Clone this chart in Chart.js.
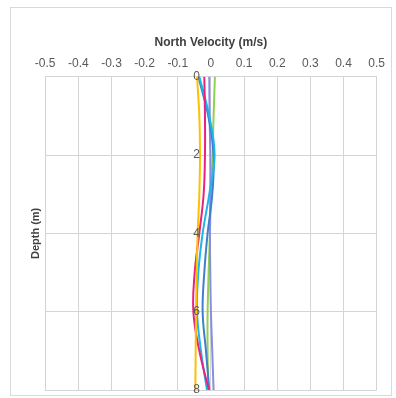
<!DOCTYPE html>
<html>
<head>
<meta charset="utf-8">
<script src="https://cdn.jsdelivr.net/npm/chart.js@4/dist/chart.umd.min.js"></script>
<style>
  html, body { margin: 0; padding: 0; background: #fff; }
  #chartContainer {
    position: absolute; left: 10px; top: 7px;
    width: 380px; height: 387px;
    border: 1px solid #d9d9d9;
  }
</style>
</head>
<body>
<div id="chartContainer"><canvas id="perfil"></canvas></div>
<script>
// Profundidades (m) e velocidades norte (m/s) por perfil
const depths = [0, 1, 2, 3, 4, 5, 6, 7, 8];
const perfilAmarelo = [-0.042, -0.035, -0.033, -0.035, -0.040, -0.043, -0.045, -0.046, -0.047];
const perfilMagenta = [-0.020, -0.018, -0.018, -0.022, -0.035, -0.049, -0.053, -0.035, -0.006];
const perfilCiano   = [-0.035, -0.005, 0.011, -0.005, -0.025, -0.038, -0.042, -0.030, -0.012];
const perfilAzul    = [-0.038, -0.008, 0.008, 0.004, -0.010, -0.020, -0.025, -0.015, -0.005];
const perfilLilas   = [-0.005, -0.004, -0.002, -0.002, -0.003, -0.002, 0.000, 0.004, 0.008];
const perfilVerde   = [0.012, 0.008, 0.005, 0.000, -0.003, -0.007, -0.010, -0.010, -0.008];
const xTicks = [-0.5, -0.4, -0.3, -0.2, -0.1, 0, 0.1, 0.2, 0.3, 0.4, 0.5];
const yTicks = [0, 2, 4, 6, 8];

const series = [
  { nome: 'Perfil 1', valores: perfilAmarelo, cor: '#FFC000' },
  { nome: 'Perfil 2', valores: perfilMagenta, cor: '#E8227E' },
  { nome: 'Perfil 3', valores: perfilCiano, cor: '#1CB5EC' },
  { nome: 'Perfil 4', valores: perfilAzul, cor: '#3F7FCC' },
  { nome: 'Perfil 5', valores: perfilLilas, cor: '#8A8CE0' },
  { nome: 'Perfil 6', valores: perfilVerde, cor: '#92D050' }
];

const fonte = { family: "'Liberation Sans', Arial, sans-serif", size: 12 };
const cinzaGrade = '#d4d4d4';

// Rótulos de profundidade escritos junto ao eixo x = 0
const rotulosProfundidade = {
  id: 'rotulosProfundidade',
  afterDatasetsDraw(chart) {
    const { ctx, scales: { x, y } } = chart;
    const x0 = x.getPixelForValue(0);
    ctx.save();
    ctx.font = `${fonte.size}px ${fonte.family}`;
    ctx.fillStyle = '#595959';
    ctx.textAlign = 'right';
    ctx.textBaseline = 'middle';
    yTicks.forEach(v => ctx.fillText(String(v), x0 - 11, y.getPixelForValue(v)));
    ctx.restore();
  }
};

const ctx = document.getElementById('perfil').getContext('2d');
new Chart(ctx, {
  type: 'scatter',
  data: {
    datasets: series.map(s => ({
      label: s.nome,
      data: s.valores.map((v, i) => ({ x: v, y: depths[i] })),
      showLine: true,
      borderColor: s.cor,
      backgroundColor: s.cor,
      borderWidth: 2,
      pointRadius: 0,
      tension: 0.4
    }))
  },
  options: {
    responsive: true,
    maintainAspectRatio: false,
    animation: false,
    layout: { padding: { left: 0, right: 13, top: 27, bottom: 5 } },
    plugins: { legend: { display: false }, tooltip: { enabled: false } },
    scales: {
      x: {
        type: 'linear',
        position: 'top',
        min: -0.5, max: 0.5,
        afterBuildTicks: axis => { axis.ticks = xTicks.map(v => ({ value: v })); },
        ticks: {
          color: '#595959', font: fonte, padding: 6,
          callback: v => (Math.round(v * 10) / 10).toString()
        },
        grid: { color: cinzaGrade, drawTicks: false },
        border: { color: cinzaGrade },
        title: {
          display: true, text: 'North Velocity (m/s)', color: '#404040',
          font: { family: fonte.family, size: 12, weight: 'bold' },
          padding: { top: 0, bottom: 1 }
        }
      },
      y: {
        type: 'linear',
        reverse: true,
        min: 0, max: 8,
        afterBuildTicks: axis => { axis.ticks = yTicks.map(v => ({ value: v })); },
        ticks: { display: false },
        grid: { color: cinzaGrade, drawTicks: false },
        border: { color: cinzaGrade },
        title: {
          display: true, text: 'Depth (m)', color: '#404040',
          font: { family: fonte.family, size: 11, weight: 'bold' },
          padding: { top: 18, bottom: 3 }
        }
      }
    }
  },
  plugins: [rotulosProfundidade]
});
</script>
</body>
</html>
